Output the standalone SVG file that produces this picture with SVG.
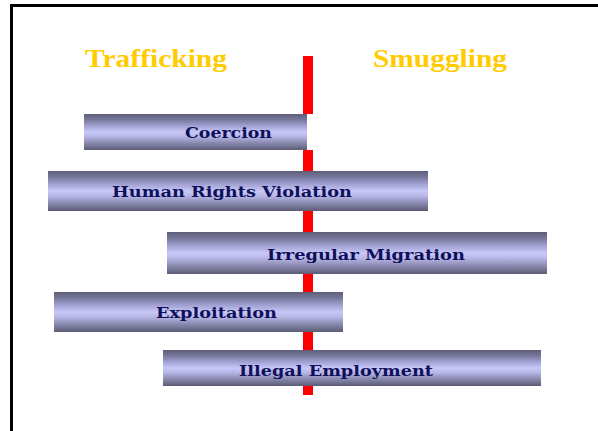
<svg xmlns="http://www.w3.org/2000/svg" width="598" height="431" viewBox="0 0 598 431">
  <style>
    .bar { fill: url(#barGrad); }
    .lbl { font-family: "DejaVu Serif", "Liberation Serif", serif; font-weight: bold; font-size: 14px; fill: #10105a; }
    .title { font-family: "Liberation Serif", "DejaVu Serif", serif; font-weight: bold; font-size: 26px; fill: #ffcc00; }
  </style>
  <defs>
    <linearGradient id="barGrad" x1="0" y1="0" x2="0" y2="1">
      <stop offset="0" stop-color="#5e5e7a"/>
      <stop offset="0.15" stop-color="#76769a"/>
      <stop offset="0.3" stop-color="#9a9acb"/>
      <stop offset="0.5" stop-color="#c8c8f8"/>
      <stop offset="0.62" stop-color="#b8b8e8"/>
      <stop offset="0.8" stop-color="#8a8ab0"/>
      <stop offset="1" stop-color="#5c5c76"/>
    </linearGradient>
  </defs>
  <rect x="0" y="0" width="598" height="431" fill="#ffffff"/>
  <rect x="11.5" y="5.5" width="700" height="600" fill="none" stroke="#000000" stroke-width="3"/>

  <g id="titles">
    <text class="title" x="85" y="67" textLength="142" lengthAdjust="spacingAndGlyphs">Trafficking</text>
    <text class="title" x="373" y="67" textLength="134" lengthAdjust="spacingAndGlyphs">Smuggling</text>
  </g>

  <g id="coercion">
    <rect class="bar" x="84" y="114" width="223" height="36"/>
    <text class="lbl" x="185" y="138" textLength="87" lengthAdjust="spacingAndGlyphs">Coercion</text>
  </g>
  <g id="human-rights-violation">
    <rect class="bar" x="48" y="171" width="380" height="40"/>
    <text class="lbl" x="112" y="197" textLength="240" lengthAdjust="spacingAndGlyphs">Human Rights Violation</text>
  </g>
  <g id="irregular-migration">
    <rect class="bar" x="167" y="232" width="380" height="42"/>
    <text class="lbl" x="267" y="260" textLength="198" lengthAdjust="spacingAndGlyphs">Irregular Migration</text>
  </g>
  <g id="exploitation">
    <rect class="bar" x="54" y="292" width="289" height="40"/>
    <text class="lbl" x="156" y="318" textLength="121" lengthAdjust="spacingAndGlyphs">Exploitation</text>
  </g>
  <g id="illegal-employment">
    <rect class="bar" x="163" y="350" width="378" height="36"/>
    <text class="lbl" x="239" y="376" textLength="194" lengthAdjust="spacingAndGlyphs">Illegal Employment</text>
  </g>

  <g id="connectors">
    <rect x="303" y="56" width="10" height="58" fill="#ff0000"/>
    <rect x="303" y="150" width="10" height="21" fill="#ff0000"/>
    <rect x="303" y="211" width="10" height="21" fill="#ff0000"/>
    <rect x="303" y="274" width="10" height="18" fill="#ff0000"/>
    <rect x="303" y="332" width="10" height="18" fill="#ff0000"/>
    <rect x="303" y="386" width="10" height="9" fill="#ff0000"/>
  </g>
</svg>
